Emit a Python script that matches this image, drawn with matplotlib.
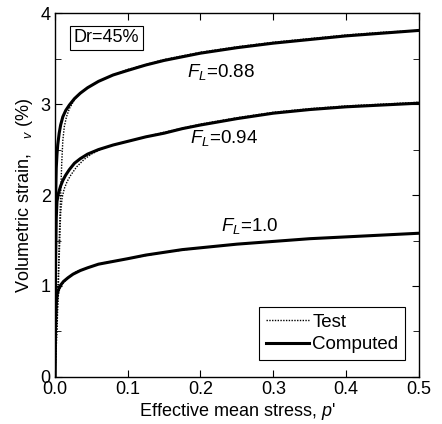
import matplotlib
matplotlib.use("Agg")
import matplotlib.pyplot as plt
from matplotlib.ticker import MultipleLocator

plt.rcParams['font.family'] = ['Liberation Sans', 'DejaVu Sans']
plt.rcParams['mathtext.fontset'] = 'custom'
plt.rcParams['mathtext.it'] = 'Liberation Sans:italic'
plt.rcParams['mathtext.rm'] = 'Liberation Sans'

# Computed curves
p_088c = [0, 0.0005, 0.001, 0.002, 0.003, 0.004, 0.006, 0.008, 0.011, 0.015, 0.02, 0.027, 0.035, 0.045,
          0.06, 0.08, 0.1, 0.125, 0.15, 0.175, 0.2, 0.25, 0.3, 0.35, 0.4, 0.45, 0.5]
e_088c = [0, 1.2, 1.9, 2.3, 2.45, 2.55, 2.68, 2.77, 2.86, 2.93, 2.99, 3.06, 3.12, 3.18,
          3.25, 3.32, 3.37, 3.43, 3.48, 3.52, 3.56, 3.62, 3.67, 3.71, 3.75, 3.78, 3.81]
p_094c = [0, 0.0005, 0.001, 0.002, 0.003, 0.005, 0.008, 0.011, 0.015, 0.02, 0.027, 0.035, 0.045,
          0.06, 0.08, 0.1, 0.125, 0.15, 0.175, 0.2, 0.25, 0.3, 0.35, 0.4, 0.45, 0.5]
e_094c = [0, 0.6, 1.2, 1.75, 1.93, 2.02, 2.10, 2.16, 2.22, 2.28, 2.35, 2.40, 2.45,
          2.50, 2.55, 2.59, 2.64, 2.68, 2.73, 2.77, 2.84, 2.90, 2.94, 2.97, 2.99, 3.01]
p_100c = [0, 0.0005, 0.001, 0.002, 0.003, 0.005, 0.008, 0.012, 0.018, 0.025, 0.035, 0.045,
          0.06, 0.08, 0.1, 0.125, 0.15, 0.175, 0.2, 0.25, 0.3, 0.35, 0.4, 0.45, 0.5]
e_100c = [0, 0.3, 0.55, 0.80, 0.90, 0.96, 1.01, 1.05, 1.09, 1.13, 1.17, 1.20,
          1.24, 1.27, 1.30, 1.34, 1.37, 1.40, 1.42, 1.46, 1.49, 1.52, 1.54, 1.56, 1.58]

# Test curves
p_088t = [0, 0.003, 0.006, 0.008, 0.0095, 0.011, 0.013, 0.016, 0.02, 0.027, 0.035, 0.045, 0.06,
          0.08, 0.1, 0.15, 0.2, 0.25, 0.3, 0.35, 0.4, 0.45, 0.5]
e_088t = [0, 0.6, 1.5, 2.0, 2.35, 2.6, 2.75, 2.86, 2.95, 3.05, 3.12, 3.18, 3.25,
          3.32, 3.38, 3.49, 3.57, 3.63, 3.68, 3.72, 3.76, 3.79, 3.81]
p_094t = [0, 0.003, 0.006, 0.008, 0.01, 0.013, 0.017, 0.022, 0.03, 0.04, 0.05, 0.065, 0.08,
          0.1, 0.15, 0.2, 0.25, 0.3, 0.35, 0.4, 0.45, 0.5]
e_094t = [0, 0.5, 1.3, 1.8, 1.97, 2.07, 2.15, 2.22, 2.31, 2.39, 2.45, 2.51, 2.55,
          2.59, 2.69, 2.78, 2.85, 2.91, 2.95, 2.98, 3.00, 3.02]
p_100t = [0, 0.002, 0.004, 0.006, 0.01, 0.018, 0.03, 0.045, 0.07, 0.1, 0.15, 0.2, 0.25,
          0.3, 0.35, 0.4, 0.45, 0.5]
e_100t = [0, 0.5, 0.85, 0.95, 1.02, 1.09, 1.16, 1.20, 1.26, 1.30, 1.37, 1.42, 1.46,
          1.49, 1.52, 1.54, 1.56, 1.58]

x_ticks = [0.0, 0.1, 0.2, 0.3, 0.4, 0.5]
x_ticklabels = ['0.0', '0.1', '0.2', '0.3', '0.4', '0.5']

fig = plt.figure(figsize=(4.42, 4.24), dpi=100)
ax = fig.add_axes([0.124, 0.111, 0.824, 0.858])

for p, e in [(p_088t, e_088t), (p_094t, e_094t), (p_100t, e_100t)]:
    ax.plot(p, e, color='black', lw=1.0, ls=(0, (1, 1)))
for p, e in [(p_088c, e_088c), (p_094c, e_094c), (p_100c, e_100c)]:
    ax.plot(p, e, color='black', lw=2.2, solid_capstyle='round', solid_joinstyle='round')

ax.plot([], [], color='black', lw=1.0, ls=(0, (1, 1)), label='Test')
ax.plot([], [], color='black', lw=2.2, label='Computed')

ax.set_xlim(0, 0.5)
ax.set_ylim(0, 4)
ax.set_xticks(x_ticks)
ax.set_xticklabels(x_ticklabels)
ax.yaxis.set_major_locator(MultipleLocator(1))
ax.yaxis.set_minor_locator(MultipleLocator(0.5))
ax.tick_params(which='both', direction='in', top=True, right=True, labelsize=13)
ax.tick_params(which='major', length=5, pad=3)
ax.tick_params(which='minor', length=4)
for s in ax.spines.values():
    s.set_linewidth(1.0)

ax.set_xlabel("Effective mean stress, $p$'", fontsize=13, labelpad=2)
ax.set_ylabel("Volumetric strain,   $_{v}$ (%)", fontsize=13, labelpad=4)

ax.text(0.181, 3.35, "$F_L$=0.88", fontsize=13.5, va='center', ha='left')
ax.text(0.185, 2.63, "$F_L$=0.94", fontsize=13.5, va='center', ha='left')
ax.text(0.228, 1.66, "$F_L$=1.0", fontsize=13.5, va='center', ha='left')

ax.text(0.0705, 3.73, "Dr=45%", fontsize=13, va='center', ha='center',
        bbox=dict(boxstyle='square,pad=0.2', fc='white', ec='black', lw=0.8))

leg = ax.legend(loc='lower right', fontsize=13.5, frameon=True, fancybox=False,
                edgecolor='black', framealpha=1, borderpad=0.35, handlelength=2.3,
                handletextpad=0.2, labelspacing=0.3, borderaxespad=0,
                bbox_to_anchor=(0.962, 0.047))
leg.get_frame().set_linewidth(0.8)

fig.savefig('out.png', dpi=100)
